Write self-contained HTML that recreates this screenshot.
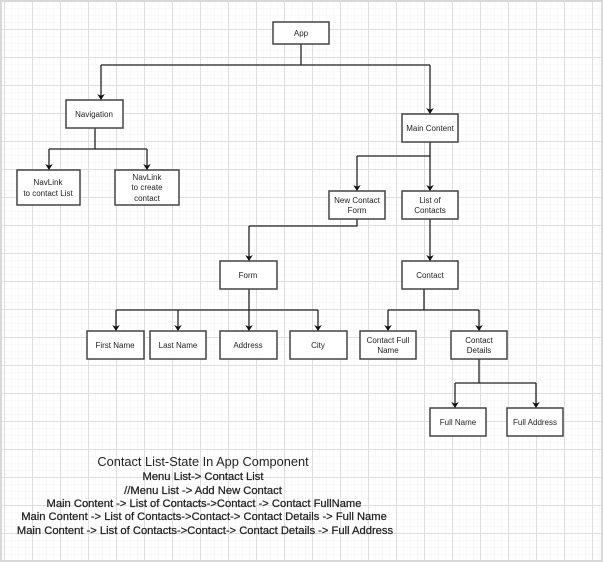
<!DOCTYPE html>
<html><head><meta charset="utf-8"><style>
html,body{margin:0;padding:0;background:#fff}
svg{display:block}
text{font-family:"Liberation Sans",Arial,sans-serif;fill:#222}
</style></head><body>
<svg width="603" height="562" viewBox="0 0 603 562" xmlns="http://www.w3.org/2000/svg">
<defs>
<pattern id="minor" x="4" y="1" width="7" height="7" patternUnits="userSpaceOnUse">
<path d="M0 0H7M0 0V7" stroke="#f3f3f3" stroke-width="1" fill="none"/>
</pattern>
<pattern id="major" x="4" y="1" width="28" height="28" patternUnits="userSpaceOnUse">
<path d="M0 0.5H28M0.5 0V28" stroke="#dedede" stroke-width="1" fill="none"/>
</pattern>
<marker id="a" markerWidth="10" markerHeight="10" refX="5" refY="8" orient="0" markerUnits="userSpaceOnUse">
<path d="M1.2 2L5 8L8.8 2L5 3.8Z" fill="#111"/>
</marker>
</defs>
<rect width="603" height="562" fill="url(#minor)"/>
<rect width="603" height="562" fill="url(#major)"/>
<rect x="1" y="1" width="601" height="560" fill="none" stroke="#d8d8d8" stroke-width="2"/>

<g stroke="#222" stroke-width="1.3" fill="none">
<path d="M301 44V65M101 65H430"/>
<path d="M101 65V100" marker-end="url(#a)"/>
<path d="M430 65V114" marker-end="url(#a)"/>
<path d="M95 128V149M49 149H147"/>
<path d="M49 149V170" marker-end="url(#a)"/>
<path d="M147 149V170" marker-end="url(#a)"/>
<path d="M430 142V156H357"/>
<path d="M357 156V191" marker-end="url(#a)"/>
<path d="M430 156V191" marker-end="url(#a)"/>
<path d="M357 219V226H249"/>
<path d="M249 226V261" marker-end="url(#a)"/>
<path d="M430 219V261" marker-end="url(#a)"/>
<path d="M249 289V310M116 310H318"/>
<path d="M116 310V331" marker-end="url(#a)"/>
<path d="M178 310V331" marker-end="url(#a)"/>
<path d="M249 310V331" marker-end="url(#a)"/>
<path d="M318 310V331" marker-end="url(#a)"/>
<path d="M424 289V310M388 310H479"/>
<path d="M388 310V331" marker-end="url(#a)"/>
<path d="M479 310V331" marker-end="url(#a)"/>
<path d="M479 359V383M455 383H536"/>
<path d="M455 383V408" marker-end="url(#a)"/>
<path d="M536 383V408" marker-end="url(#a)"/>
</g>

<g fill="#fff" stroke="#444" stroke-width="1.5">
<rect x="273" y="22" width="56" height="22"/>
<rect x="66" y="100" width="57" height="28"/>
<rect x="17" y="170" width="63" height="35"/>
<rect x="115" y="170" width="64" height="35"/>
<rect x="402" y="114" width="56" height="28"/>
<rect x="329" y="191" width="56" height="28"/>
<rect x="402" y="191" width="56" height="28"/>
<rect x="220" y="261" width="57" height="28"/>
<rect x="402" y="261" width="56" height="28"/>
<rect x="87" y="331" width="57" height="28"/>
<rect x="150" y="331" width="56" height="28"/>
<rect x="220" y="331" width="57" height="28"/>
<rect x="290" y="331" width="57" height="28"/>
<rect x="360" y="331" width="56" height="28"/>
<rect x="451" y="331" width="56" height="28"/>
<rect x="430" y="408" width="56" height="28"/>
<rect x="507" y="408" width="56" height="28"/>
</g>

<g font-size="8" text-anchor="middle">
<text x="301" y="36">App</text>
<text x="94" y="117">Navigation</text>
<text x="48" y="185">NavLink</text><text x="48" y="196">to contact List</text>
<text x="147" y="180">NavLink</text><text x="147" y="190">to create</text><text x="147" y="201">contact</text>
<text x="430" y="131">Main Content</text>
<text x="357" y="203">New Contact</text><text x="357" y="213">Form</text>
<text x="430" y="203">List of</text><text x="430" y="213">Contacts</text>
<text x="248" y="278">Form</text>
<text x="430" y="278">Contact</text>
<text x="115" y="348">First Name</text>
<text x="178" y="348">Last Name</text>
<text x="248" y="348">Address</text>
<text x="318" y="348">City</text>
<text x="388" y="343">Contact Full</text><text x="388" y="353">Name</text>
<text x="479" y="343">Contact</text><text x="479" y="353">Details</text>
<text x="458" y="425">Full Name</text>
<text x="535" y="425">Full Address</text>
</g>

<g text-anchor="middle" stroke="#222" stroke-width="0.25">
<text x="203" y="466" font-size="12.8" stroke-width="0">Contact List-State In App Component</text>
<text x="203" y="480" font-size="11.2">Menu List-&gt; Contact List</text>
<text x="203" y="494" font-size="11.2">//Menu List -&gt; Add New Contact</text>
<text x="204" y="507" font-size="11.2">Main Content -&gt; List of Contacts-&gt;Contact -&gt; Contact FullName</text>
<text x="204" y="520" font-size="11.2">Main Content -&gt; List of Contacts-&gt;Contact-&gt; Contact Details -&gt; Full Name</text>
<text x="205" y="534" font-size="11.2">Main Content -&gt; List of Contacts-&gt;Contact-&gt; Contact Details -&gt; Full Address</text>
</g>
</svg>
</body></html>
